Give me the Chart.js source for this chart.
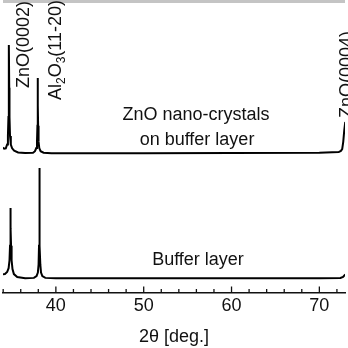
<!DOCTYPE html>
<html>
<head>
<meta charset="utf-8">
<script src="https://cdn.jsdelivr.net/npm/chart.js@4/dist/chart.umd.min.js"></script>
<style>
  html, body { margin: 0; padding: 0; background: #fff; }
  canvas { display: block; }
</style>
</head>
<body>
<canvas id="xrd" width="348" height="348"></canvas>
<script>
// 2theta scan of ZnO nano-crystals grown on the buffer layer (upper trace)
const filmAngles = [33.9, 34.1, 34.3, 34.45, 34.54, 34.6, 34.63, 34.66, 34.69, 34.72, 34.78, 34.87, 35.02, 35.25, 35.7, 36.5,
  37.4, 37.62, 37.77, 37.85, 37.9, 37.92, 37.94, 37.96, 37.98, 38.03, 38.11, 38.26, 38.6, 39.5,
  50, 60, 70, 72.2, 72.45, 72.6, 72.72, 72.83, 72.95, 73.05, 73.12];
const filmCounts = [49.6, 49.2, 49.3, 50.6, 53.5, 60, 70, 84.6, 70, 60, 53.5, 50.6, 49.3, 48.5, 47.9, 47.7,
  47.8, 48.3, 49.4, 51.5, 57, 64, 73.3, 64, 57, 51.5, 49.4, 48.3, 47.8, 47.6,
  47.6, 47.7, 47.8, 48.0, 48.4, 49.0, 51.5, 55.3, 58.3, 63, 70];

// buffer layer alone (lower trace)
const bufferAngles = [33.9, 34.2, 34.45, 34.62, 34.72, 34.78, 34.81, 34.84, 34.87, 34.9, 34.96, 35.06, 35.22, 35.6, 36.5,
  37.5, 37.8, 37.95, 38.03, 38.08, 38.11, 38.13, 38.15, 38.18, 38.23, 38.31, 38.46, 38.8,
  40, 50, 60, 70, 72.4, 72.7, 72.85, 72.95, 73.1];
const bufferCounts = [6.2, 6.3, 7.0, 8.3, 11, 16, 22, 28.9, 22, 16, 11, 8.0, 6.3, 5.3, 4.9,
  5.0, 5.6, 6.8, 9.5, 16, 28, 42.6, 28, 16, 9.5, 6.8, 5.6, 5.0,
  4.85, 4.85, 4.85, 4.85, 4.95, 5.3, 5.8, 6.2, 7.0];

const xMin = 33.98;
const xMax = 72.92;
const labelFont = '18px "Liberation Sans", Arial, sans-serif';

function toPoints(xs, ys) {
  return xs.map((x, i) => ({ x: x, y: ys[i] }));
}

// inward major/minor ticks plus the top frame edge
const frameTicks = {
  id: 'frameTicks',
  beforeDraw(chart) {
    const { ctx, chartArea } = chart;
    ctx.save();
    ctx.fillStyle = '#c4c4c4';
    ctx.fillRect(chartArea.left, chartArea.top, chartArea.right - chartArea.left, 3);
    ctx.restore();
  },
  afterDraw(chart) {
    const { ctx, chartArea } = chart;
    const xs = chart.scales.x;
    ctx.save();
    ctx.strokeStyle = '#111';
    ctx.lineWidth = 1.3;
    for (let v = 34; v <= 72; v += 2) {
      const px = xs.getPixelForValue(v);
      const len = v % 10 === 0 ? 6 : 3.5;
      ctx.beginPath();
      ctx.moveTo(px, chartArea.bottom);
      ctx.lineTo(px, chartArea.bottom - len);
      ctx.stroke();
    }
    ctx.restore();
  }
};

// reflection names and sample captions
function drawVertical(ctx, parts, x, y) {
  ctx.save();
  ctx.translate(x, y);
  ctx.rotate(-Math.PI / 2);
  ctx.textAlign = 'left';
  ctx.textBaseline = 'alphabetic';
  let pos = 0;
  parts.forEach(p => {
    ctx.font = p.sub ? '12px "Liberation Sans", Arial, sans-serif' : labelFont;
    ctx.fillText(p.t, pos, p.sub ? 4 : 0);
    pos += ctx.measureText(p.t).width;
  });
  ctx.restore();
}

const peakLabels = {
  id: 'peakLabels',
  afterDraw(chart) {
    const { ctx } = chart;
    ctx.save();
    ctx.fillStyle = '#111';
    drawVertical(ctx, [{ t: 'ZnO(0002)' }], 29, 88);
    drawVertical(ctx, [{ t: 'Al' }, { t: '2', sub: true }, { t: 'O' }, { t: '3', sub: true }, { t: '(11-20)' }], 61, 100);
    drawVertical(ctx, [{ t: 'ZnO(0004)' }], 352, 118);

    ctx.font = labelFont;
    ctx.textAlign = 'center';
    ctx.textBaseline = 'middle';
    ctx.fillText('ZnO nano-crystals', 196, 115);
    ctx.fillText('on buffer layer', 197, 140);
    ctx.fillText('Buffer layer', 198, 260);
    ctx.restore();
  }
};

new Chart(document.getElementById('xrd'), {
  type: 'scatter',
  data: {
    datasets: [
      {
        label: 'ZnO nano-crystals on buffer layer',
        data: toPoints(filmAngles, filmCounts),
        showLine: true,
        borderColor: '#000',
        borderWidth: 2,
        pointRadius: 0,
        tension: 0
      },
      {
        label: 'Buffer layer',
        data: toPoints(bufferAngles, bufferCounts),
        showLine: true,
        borderColor: '#000',
        borderWidth: 2,
        pointRadius: 0,
        tension: 0
      }
    ]
  },
  options: {
    responsive: false,
    animation: false,
    devicePixelRatio: 1,
    layout: { padding: 0 },
    plugins: {
      legend: { display: false },
      tooltip: { enabled: false }
    },
    scales: {
      x: {
        type: 'linear',
        min: xMin,
        max: xMax,
        grid: { display: false, drawTicks: false },
        border: { display: true, color: '#111', width: 1.5 },
        ticks: {
          stepSize: 2,
          autoSkip: false,
          maxRotation: 0,
          padding: 3,
          color: '#111',
          font: { family: '"Liberation Sans", Arial, sans-serif', size: 18 },
          callback: v => (Math.abs(v % 10) < 1e-6 ? String(v) : '')
        },
        title: {
          display: true,
          text: '2θ [deg.]',
          color: '#111',
          padding: { top: 0, bottom: 0 },
          font: { family: '"Liberation Sans", Arial, sans-serif', size: 18 }
        },
        afterFit: scale => { scale.height = 55.5; }
      },
      y: {
        display: false,
        min: 0,
        max: 100
      }
    }
  },
  plugins: [frameTicks, peakLabels]
});
</script>
</body>
</html>
